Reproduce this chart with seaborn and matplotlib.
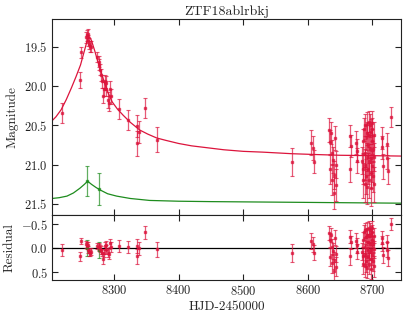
import matplotlib
matplotlib.use("Agg")
import matplotlib.pyplot as plt
import seaborn as sns
import numpy as np
import pandas as pd

# r-band observations (HJD-2450000, mag, err, residual)
r_hjd = [8219, 8247, 8248.5,
         8257, 8258, 8259, 8260, 8261, 8262, 8264,
         8274, 8276, 8277, 8278, 8280, 8281, 8283, 8284, 8286, 8287, 8288,
         8291, 8292, 8294, 8295, 8308, 8322, 8335, 8336, 8338.5, 8348, 8366,
         8575, 8605, 8608, 8609,
         8633, 8634, 8635, 8636, 8637, 8638, 8639, 8640, 8641, 8642, 8643, 8644,
         8665, 8666, 8665.5, 8675, 8676, 8675.5,
         8684, 8685, 8686, 8686, 8687, 8688, 8688, 8689, 8689, 8690, 8690, 8691,
         8691, 8692, 8692, 8693, 8693, 8694, 8694, 8695, 8695, 8696, 8696, 8697,
         8697, 8698, 8698, 8699, 8699, 8700, 8700, 8701, 8701, 8702, 8702, 8703,
         8714, 8715, 8716, 8722, 8723, 8724, 8728]
r_mag = [20.34, 19.92, 19.57,
         19.38, 19.35, 19.42, 19.33, 19.46, 19.49, 19.50,
         19.63, 19.69, 19.73, 19.79, 19.86, 19.94, 20.12, 20.04, 19.94, 20.03, 19.96,
         20.18, 20.22, 20.03, 20.13, 20.29, 20.43, 20.51, 20.73, 20.58, 20.28, 20.68,
         20.97, 20.72, 20.79, 20.96,
         20.56, 21.06, 20.71, 20.60, 20.85, 21.19, 20.94, 21.36, 21.13, 20.66, 21.26, 21.00,
         20.64, 20.76, 21.05, 20.72, 20.82, 20.95,
         20.95, 21.20, 20.70, 21.05, 20.55, 20.85, 21.25, 20.50, 21.00, 20.65, 21.15, 20.48,
         20.90, 20.60, 21.28, 20.75, 21.05, 20.45, 20.95, 20.62, 21.20, 20.50, 20.80, 21.10,
         20.58, 20.92, 21.30, 20.47, 20.70, 21.02, 20.55, 21.15, 20.80, 20.62, 21.25, 20.90,
         20.66, 20.78, 21.02, 20.74, 20.91, 21.08, 20.39]
r_err = [0.13, 0.10, 0.07,
         0.07, 0.07, 0.07, 0.06, 0.07, 0.07, 0.07,
         0.06, 0.07, 0.07, 0.07, 0.08, 0.08, 0.10, 0.09, 0.08, 0.09, 0.09,
         0.10, 0.10, 0.09, 0.10, 0.13, 0.13, 0.14, 0.16, 0.14, 0.13, 0.16,
         0.18, 0.16, 0.15, 0.15,
         0.15, 0.18, 0.15, 0.14, 0.16, 0.20, 0.17, 0.20, 0.18, 0.15, 0.20, 0.17,
         0.14, 0.14, 0.17, 0.15, 0.15, 0.16,
         0.17, 0.22, 0.16, 0.20, 0.15, 0.18, 0.22, 0.14, 0.20, 0.16, 0.22, 0.15,
         0.18, 0.15, 0.22, 0.17, 0.20, 0.14, 0.18, 0.16, 0.22, 0.15, 0.18, 0.20,
         0.16, 0.18, 0.22, 0.15, 0.16, 0.20, 0.15, 0.20, 0.17, 0.16, 0.22, 0.18,
         0.14, 0.15, 0.16, 0.14, 0.15, 0.16, 0.13]
r_res = [0.04, 0.17, -0.15,
         -0.08, -0.05, 0.03, -0.06, 0.08, 0.10, 0.07,
         -0.04, -0.03, -0.02, 0.01, 0.03, 0.09, 0.22, 0.10, -0.04, 0.03, -0.06,
         0.09, 0.12, -0.11, -0.03, -0.05, -0.03, -0.05, 0.17, 0.00, -0.33, 0.02,
         0.10, -0.15, -0.08, 0.09,
         -0.32, 0.18, -0.17, -0.28, -0.03, 0.31, 0.06, 0.48, 0.25, -0.22, 0.38, 0.12,
         -0.24, -0.12, 0.17, -0.16, -0.06, 0.07,
         0.07, 0.32, -0.18, 0.17, -0.33, -0.03, 0.37, -0.38, 0.12, -0.23, 0.27, -0.40,
         0.02, -0.28, 0.40, -0.13, 0.17, -0.43, 0.07, -0.26, 0.32, -0.38, -0.08, 0.22,
         -0.30, 0.04, 0.42, -0.41, -0.18, 0.14, -0.33, 0.27, -0.08, -0.26, 0.37, 0.02,
         -0.22, -0.10, 0.14, -0.14, 0.03, 0.20, -0.50]

# g-band observations
g_hjd = [8258, 8277]
g_mag = [21.21, 21.31]
g_err = [0.19, 0.20]
g_res = [0.00, 0.04]
g_res_err = [0.17, 0.17]

# model light curves
r_model_hjd = [8204, 8210, 8218, 8226, 8234, 8241, 8248, 8253, 8257, 8260, 8262,
               8265, 8270, 8276, 8281, 8286, 8291, 8297, 8305, 8314, 8325, 8340,
               8352, 8366, 8380, 8400, 8420, 8450, 8470, 8500, 8530, 8575, 8610,
               8650, 8700, 8744]
r_model_mag = [20.44, 20.39, 20.30, 20.17, 20.02, 19.88, 19.73, 19.58, 19.46, 19.39, 19.37,
               19.42, 19.55, 19.72, 19.85, 19.98, 20.09, 20.20, 20.29, 20.37, 20.46, 20.56,
               20.61, 20.66, 20.69, 20.73, 20.76, 20.79, 20.81, 20.83, 20.84, 20.86, 20.87,
               20.88, 20.885, 20.89]
g_model_hjd = [8204, 8215, 8227, 8237, 8247, 8254, 8259, 8265, 8272, 8278, 8290,
               8304, 8325, 8355, 8400, 8450, 8600, 8744]
g_model_mag = [21.43, 21.42, 21.40, 21.36, 21.30, 21.25, 21.21, 21.25, 21.29, 21.32, 21.37,
               21.40, 21.43, 21.455, 21.465, 21.47, 21.48, 21.49]

red = "#dc143c"
green = "#1e8c1e"

sns.set_theme(style="ticks")
plt.rcParams["font.family"] = "serif"
plt.rcParams["font.serif"] = ["cmr10", "DejaVu Serif"]
plt.rcParams["mathtext.fontset"] = "cm"
plt.rcParams["axes.formatter.use_mathtext"] = True
plt.rcParams["axes.unicode_minus"] = True

fig = plt.figure(figsize=(4.07, 3.18), dpi=100)
ax = fig.add_axes([0.128, 0.324, 0.857, 0.615])
axr = fig.add_axes([0.128, 0.119, 0.857, 0.205], sharex=ax)

ebkw = dict(fmt="s", ms=1.8, lw=0.9, capsize=1.5, capthick=0.8, alpha=0.7)

sns.lineplot(x=r_model_hjd, y=r_model_mag, ax=ax, color=red, lw=0.9)
sns.lineplot(x=g_model_hjd, y=g_model_mag, ax=ax, color=green, lw=0.9)
ax.errorbar(r_hjd, r_mag, yerr=r_err, color=red, **ebkw)
ax.errorbar(g_hjd, g_mag, yerr=g_err, color=green, **ebkw)

axr.axhline(0, color="black", lw=0.9)
axr.errorbar(g_hjd, g_res, yerr=g_res_err, color=green, **ebkw)
axr.errorbar(r_hjd, r_res, yerr=r_err, color=red, **ebkw)

ax.set_xlim(8204, 8744)
ax.set_ylim(21.64, 19.15)
axr.set_ylim(0.66, -0.69)
ax.set_yticks([19.5, 20.0, 20.5, 21.0, 21.5])
axr.set_yticks([-0.5, 0.0, 0.5])
ax.set_xticks([8300, 8400, 8500, 8600, 8700])

for a in (ax, axr):
    a.tick_params(direction="in", top=True, right=True, length=4, width=0.8,
                  labelsize=9, colors="#222222", pad=3)
    for s in a.spines.values():
        s.set_linewidth(0.8)
        s.set_color("#222222")
ax.tick_params(labelbottom=False)

ax.set_title("ZTF18ablrbkj", fontsize=10, pad=3)
ax.set_ylabel("Magnitude", fontsize=9.5)
axr.set_ylabel("Residual", fontsize=9.5)
axr.set_xlabel("HJD-2450000", fontsize=9.5, labelpad=2)
fig.align_ylabels([ax, axr])

fig.savefig("out.png", dpi=100)
